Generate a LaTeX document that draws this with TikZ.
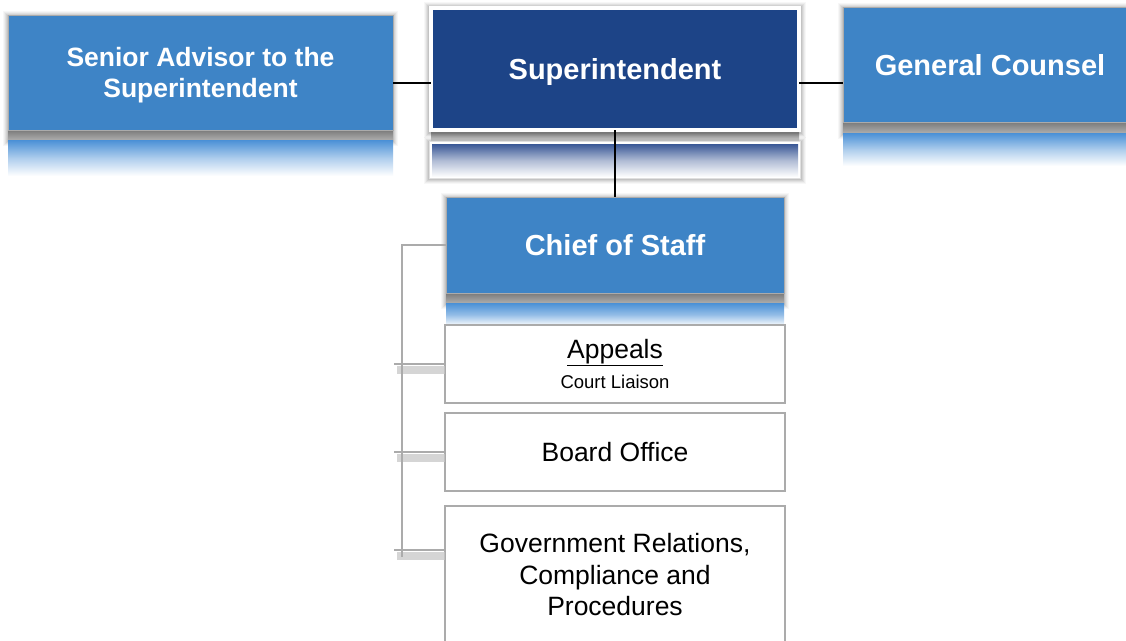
\documentclass[tikz,border=0pt]{standalone}
\usepackage{fontspec}
\setmainfont{Liberation Sans}
\definecolor{midblue}{HTML}{3E84C6}
\definecolor{darkblue}{HTML}{1D4487}
\definecolor{boxline}{HTML}{ABABAB}
\definecolor{refblue}{HTML}{4A90D6}
\definecolor{refdark}{HTML}{3A5896}
\newcommand\softshadow[4]{%
  \foreach \d/\o in {5/0.03,4/0.04,3/0.05,2/0.06,1/0.07}{%
    \fill[black,opacity=\o] (#1-\d,#2-\d+1) rectangle (#3+\d,#4+\d+1);}}
\tikzset{
  bluebox/.style={draw=boxline, line width=1pt, fill=midblue, text=white, outer sep=0pt,
    font=\bfseries\fontsize{29}{31}\selectfont, align=center, inner sep=0pt, anchor=north west},
  darkbox/.style={draw=white, line width=4pt, fill=darkblue, text=white, outer sep=0pt,
    font=\bfseries\fontsize{29}{31}\selectfont, align=center, inner sep=0pt, anchor=north west},
  whitebox/.style={draw=boxline, line width=1.3pt, fill=white, text=black, outer sep=0pt,
    font=\fontsize{26.5}{31.5}\selectfont, align=center, inner sep=0pt, anchor=north west},
  boxtext/.style={text=white, align=center, inner sep=0pt},
  conn/.style={draw=black, line width=1.5pt},
  bracket/.style={draw=boxline, line width=1.5pt},
  stubshadow/.style={draw=black!22, line width=8pt, opacity=0.75},
}
\begin{document}
\begin{tikzpicture}[x=1pt,y=-1pt]
\useasboundingbox (0,0) rectangle (1126,640);
\fill[white] (0,0) rectangle (1126,640);

% ---- Senior Advisor ----
\softshadow{8}{15}{393}{140}
\shade[top color=black!52, bottom color=black!32] (8,130) rectangle (393,140);
\shade[top color=refblue, bottom color=white, middle color=refblue!45] (8,140) rectangle (393,176);
\node[bluebox, minimum width=385pt, minimum height=115pt] (sa) at (8,15) {};
\node[boxtext, font=\bfseries\fontsize{26.5}{31}\selectfont] (satext) at ([yshift=-3pt]sa.center)
  {Senior Advisor to the\\Superintendent};

% ---- Superintendent ----
\softshadow{429}{141}{801}{178}
\shade[top color=black!40, bottom color=black!25] (431,130) rectangle (799,141);
\fill[white] (429,141) rectangle (801,179);
\draw[black!12, line width=1pt] (429.5,141.5) rectangle (800.5,178.5);
\shade[top color=refdark, bottom color=white, middle color=refdark!40] (432,144) rectangle (798,177);
\softshadow{429}{6}{801}{132}
\node[darkbox, minimum width=368pt, minimum height=122pt] (sup) at (431,8) {};
\node[boxtext, font=\bfseries\fontsize{29}{31}\selectfont] (suptext) at ([yshift=-3pt]sup.center)
  {Superintendent};

% ---- General Counsel ----
\softshadow{843}{7}{1137}{133}
\shade[top color=black!52, bottom color=black!32] (843,122) rectangle (1137,133);
\shade[top color=refblue, bottom color=white, middle color=refblue!45] (843,133) rectangle (1137,166);
\node[bluebox, minimum width=294pt, minimum height=115pt] (gc) at (843,7) {};
\node[boxtext, font=\bfseries\fontsize{29}{31}\selectfont] (gctext) at ([yshift=-1pt]gc.center)
  {General Counsel};

% ---- Chief of Staff ----
\softshadow{446}{197}{784}{303}
\shade[top color=black!52, bottom color=black!32] (446,293) rectangle (784,303);
\shade[top color=refblue, bottom color=white, middle color=refblue!60] (446,303) rectangle (784,326);
\node[bluebox, minimum width=338pt, minimum height=96pt] (cos) at (446,197) {Chief of Staff};

% ---- white boxes ----
\node[whitebox, minimum width=340pt, minimum height=78pt] (app) at (445,325)
  {\underline{Appeals}\\[-2pt]{\fontsize{18.5}{22}\selectfont Court Liaison}};
\node[whitebox, minimum width=340pt, minimum height=78pt] (board) at (445,413) {Board Office};
\node[whitebox, minimum width=340pt, minimum height=138pt] (gov) at (445,506)
  {Government Relations,\\Compliance and\\Procedures};

% ---- connectors ----
\coordinate (hy) at (0,83);
\draw[conn] (sa.east |- hy) -- (sup.west |- hy);
\draw[conn] (sup.east |- hy) -- (gc.west |- hy);
\draw[conn] (sup.south -| cos.north) -- (cos.north);

\coordinate (bend) at (402,557);
\draw[stubshadow] ([yshift=-6pt]app.west) -- ++(-48,0);
\draw[stubshadow] ([yshift=-6pt]board.west) -- ++(-48,0);
\draw[stubshadow] ([yshift=19pt]gov.west) -- ++(-48,0);
\draw[bracket] (cos.west) -| (bend);
\draw[bracket] (app.west) -- ++(-51,0);
\draw[bracket] (board.west) -- ++(-51,0);
\draw[bracket] ([yshift=25pt]gov.west) -- ++(-51,0);
\end{tikzpicture}
\end{document}
